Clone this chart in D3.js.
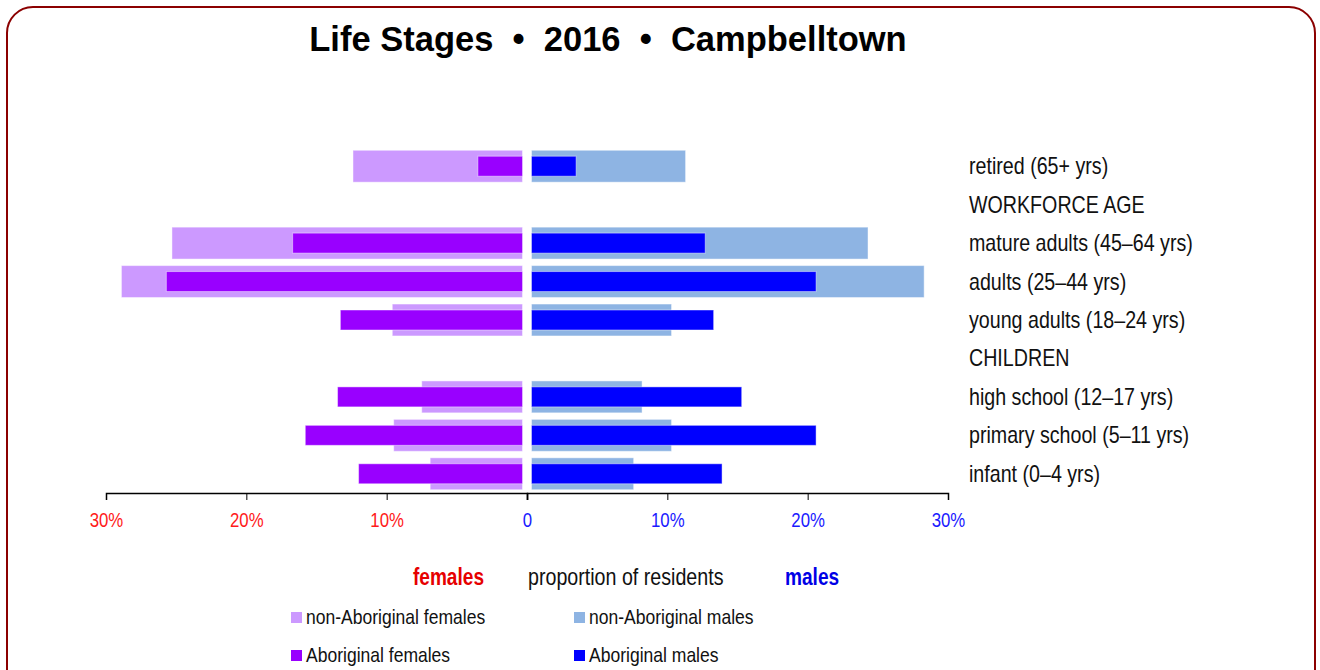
<!DOCTYPE html>
<html>
<head>
<meta charset="utf-8">
<script src="https://cdn.jsdelivr.net/npm/d3@7"></script>
<style>
  body { margin: 0; background: #fff; }
  text { font-family: "Liberation Sans", Arial, sans-serif; }
  .title { font-weight: bold; white-space: pre; }
</style>
</head>
<body>
<div id="chart"></div>
<script>
// rows from top to bottom (header rows have no bars)
var rows = ["retired (65+ yrs)", "WORKFORCE AGE", "mature adults (45–64 yrs)", "adults (25–44 yrs)",
            "young adults (18–24 yrs)", "CHILDREN", "high school (12–17 yrs)",
            "primary school (5–11 yrs)", "infant (0–4 yrs)"];
var stages = ["retired (65+ yrs)", "mature adults (45–64 yrs)", "adults (25–44 yrs)",
              "young adults (18–24 yrs)", "high school (12–17 yrs)",
              "primary school (5–11 yrs)", "infant (0–4 yrs)"];

// percent of residents
var nonAbFemales = [12.4, 25.3, 28.9, 9.6, 7.5, 9.5, 6.9];
var abFemales    = [3.5, 16.7, 25.7, 13.3, 13.5, 15.8, 12.0];
var nonAbMales   = [11.3, 24.3, 28.3, 10.3, 8.2, 10.3, 7.6];
var abMales      = [3.5, 12.7, 20.6, 13.3, 15.3, 20.6, 13.9];

var ticks = [0, 10, 20, 30];

var width = 1320, height = 670;

var svg = d3.select("#chart").append("svg")
    .attr("width", width)
    .attr("height", height);

// the original uses a narrow sans face, so squeeze the text horizontally
function narrowText(parent, x, y, size, txt, sq) {
    return parent.append("text")
        .attr("transform", "translate(" + x + "," + y + ") scale(" + (sq || 0.855) + ",1)")
        .attr("font-size", size + "px")
        .text(txt);
}

// frame
svg.append("rect")
    .attr("x", 7).attr("y", 7)
    .attr("width", 1308).attr("height", 720)
    .attr("rx", 26).attr("ry", 26)
    .attr("fill", "none")
    .attr("stroke", "#8b0000")
    .attr("stroke-width", 2);

svg.append("text")
    .attr("class", "title")
    .attr("x", 608).attr("y", 51)
    .attr("text-anchor", "middle")
    .attr("font-size", "34.5px")
    .text("Life Stages  •  2016  •  Campbelltown");

var xF = d3.scaleLinear().domain([0, 30]).range([527, 106]);
var xM = d3.scaleLinear().domain([0, 30]).range([527, 948]);
var y = d3.scaleBand().domain(rows).range([147, 493]).paddingInner(0.17).paddingOuter(0.085);

var gap = 4.5, innerH = 20;

var data = stages.map(function (s, i) {
    return { stage: s, nf: nonAbFemales[i], af: abFemales[i], nm: nonAbMales[i], am: abMales[i] };
});

var bars = svg.append("g");

function addBars(key, side, color, h) {
    bars.selectAll("rect." + key)
        .data(data).enter()
        .append("rect")
        .attr("class", key)
        .attr("x", function (d) { return side == "f" ? xF(d[key]) : xM(0) + gap; })
        .attr("width", function (d) { return side == "f" ? xF(0) - gap - xF(d[key]) : xM(d[key]) - xM(0) - gap; })
        .attr("y", function (d) { return y(d.stage) + (y.bandwidth() - h) / 2; })
        .attr("height", h)
        .attr("fill", color)
        .attr("stroke", "#fff")
        .attr("stroke-opacity", 0.45)
        .attr("stroke-width", 1);
}
addBars("nf", "f", "#cc99ff", y.bandwidth());
addBars("nm", "m", "#8eb4e3", y.bandwidth());
addBars("af", "f", "#9900ff", innerH);
addBars("am", "m", "#0000ff", innerH);

// row labels
var labels = svg.append("g");
rows.forEach(function (r) {
    narrowText(labels, 969, y(r) + y.bandwidth() / 2 + 8, 23, r).attr("fill", "#111");
});

// axes
var axisF = d3.axisBottom(xF).tickValues(ticks.slice(1)).tickSize(7).tickFormat(function (d) { return d + "%"; });
var axisM = d3.axisBottom(xM).tickValues(ticks).tickSize(7).tickFormat(function (d) { return d ? d + "%" : "0"; });

var gF = svg.append("g").attr("transform", "translate(0,493)").call(axisF);
var gM = svg.append("g").attr("transform", "translate(0,493)").call(axisM);
[gF, gM].forEach(function (g) {
    g.attr("font-family", null);
    g.select(".domain").attr("stroke", "#000").attr("stroke-width", 1.5);
    g.selectAll(".tick line").attr("stroke", "#000");
    g.selectAll(".tick text")
        .attr("font-size", "20.5px").attr("dy", null).attr("y", null)
        .attr("transform", "translate(0,34) scale(0.82,1)");
});
gF.selectAll(".tick text").attr("fill", "#ff1a1a");
gM.selectAll(".tick text").attr("fill", "#1a1aff");

// axis title
var at = svg.append("g");
narrowText(at, 484, 585, 23, "females", 0.83).attr("text-anchor", "end")
    .attr("font-weight", "bold").attr("fill", "#e60000");
narrowText(at, 528, 585, 23, "proportion of residents").attr("fill", "#111");
narrowText(at, 785, 585, 23, "males", 0.83).attr("font-weight", "bold").attr("fill", "#0000e6");

// legend
var legendNames = ["non-Aboriginal females", "non-Aboriginal males", "Aboriginal females", "Aboriginal males"];
var legendColors = ["#cc99ff", "#8eb4e3", "#9900ff", "#0000ff"];
var lg = svg.append("g");
legendNames.forEach(function (name, i) {
    var lx = i % 2 ? 574 : 291, ly = i < 2 ? 612 : 650;
    lg.append("rect").attr("x", lx).attr("y", ly).attr("width", 11).attr("height", 11)
        .attr("fill", legendColors[i]);
    narrowText(lg, lx + 15, ly + 12, 21, name, 0.835).attr("fill", "#111");
});
</script>
</body>
</html>
